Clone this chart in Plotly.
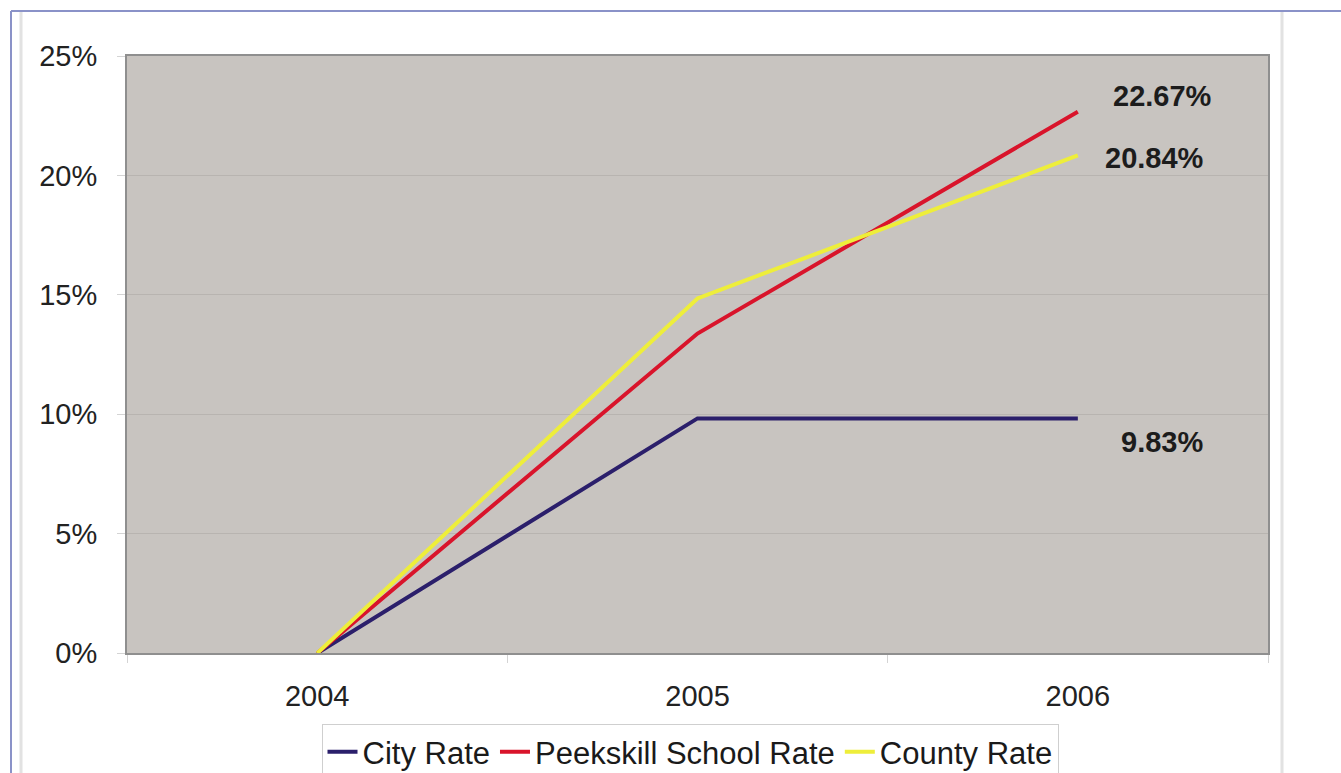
import plotly.graph_objects as go

# Rates of change relative to 2004
years = ["2004", "2005", "2006"]
city_rate = [0.0, 9.83, 9.83]
school_rate = [0.0, 13.38, 22.67]
county_rate = [0.0, 14.85, 20.84]

series_names = ["City Rate", "Peekskill School Rate", "County Rate"]
series_colors = ["#2b1f6b", "#d9142b", "#eeee3a"]

W, H = 1341, 773
L, R, T, B = 127, 1268, 56, 652  # plot area in pixels
LEGEND_TOP = 724


def px_x(p):
    return (p - L) / (R - L)


def px_y(p):
    return (B - p) / (B - T)


fig = go.Figure()
for name, vals, col in zip(series_names, [city_rate, school_rate, county_rate], series_colors):
    fig.add_trace(go.Scatter(
        x=years, y=vals, name=name, mode="lines",
        line=dict(color=col, width=4),
    ))

# End-of-line value labels (x given as the category index of the last year)
last = len(years) - 1
end_labels = [
    (school_rate[-1], 33, 16),
    (county_rate[-1], 25, -3),
    (city_rate[-1], 41, -24),
]
for val, xs, ys in end_labels:
    fig.add_annotation(
        x=last, y=val, text=f"<b>{val:.2f}%</b>", showarrow=False,
        xanchor="left", yanchor="middle", xshift=xs, yshift=ys,
        font=dict(family="Liberation Sans, Arial", size=29, color="#1c1c1c"),
    )

# Outer frame lines
fig.add_shape(type="line", xref="paper", yref="paper",
              x0=px_x(11), x1=px_x(W + 5), y0=px_y(11), y1=px_y(11),
              line=dict(color="#8a92c8", width=2))
fig.add_shape(type="line", xref="paper", yref="paper",
              x0=px_x(11), x1=px_x(11), y0=px_y(11), y1=px_y(H + 5),
              line=dict(color="#8a92c8", width=2))
for gx in (21, 1282):
    fig.add_shape(type="line", xref="paper", yref="paper",
                  x0=px_x(gx), x1=px_x(gx), y0=px_y(12), y1=px_y(H + 5),
                  line=dict(color="#e2e2e2", width=3))

tick_font = dict(family="Liberation Sans, Arial", size=29, color="#222222")

# the container-anchored legend reserves space below the plot area
reserved_b = H - LEGEND_TOP - 10

fig.update_layout(
    width=W, height=H, autosize=False,
    margin=dict(l=L, r=W - R, t=T, b=(H - B) - reserved_b, pad=0),
    paper_bgcolor="white",
    plot_bgcolor="#c8c4c0",
    showlegend=True,
    legend=dict(
        orientation="h", x=px_x(690), xanchor="center",
        yref="container", y=1 - LEGEND_TOP / H, yanchor="top",
        font=dict(family="Liberation Sans, Arial", size=31, color="#1a1a1a"),
        bordercolor="#cfcfcf", borderwidth=1, bgcolor="white",
        itemwidth=30, tracegroupgap=0,
    ),
    xaxis=dict(
        type="category", range=[-0.5, 2.5],
        showgrid=False, zeroline=False,
        showline=True, linecolor="#8f8f8f", linewidth=2, mirror=True,
        ticks="outside", tickson="boundaries", ticklen=8, tickcolor="#d4d4d4",
        tickfont=tick_font, ticklabelstandoff=16,
    ),
    yaxis=dict(
        range=[0, 25], dtick=5, ticksuffix="%",
        showgrid=True, gridcolor="#b8b4b0", gridwidth=1,
        zeroline=False,
        showline=True, linecolor="#8f8f8f", linewidth=2, mirror=True,
        ticks="outside", ticklen=8, tickcolor="#d4d4d4",
        tickfont=tick_font, ticklabelstandoff=14,
    ),
)

fig.write_html("out.html")
